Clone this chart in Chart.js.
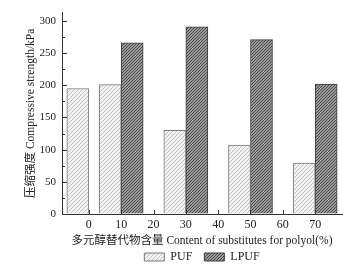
<!DOCTYPE html>
<html>
<head>
    <title>Compressive strength</title>
    <script src="https://cdn.jsdelivr.net/npm/chart.js"></script>
    <style>
        body { margin: 0; background: #ffffff; }
        #wrap { width: 362px; height: 272px; }
    </style>
</head>
<body>
    <div id="wrap"><canvas id="chart" width="362" height="272"></canvas></div>
    <script>
        // substitute content (%) where bars are drawn
        const contents = [0, 10, 30, 50, 70];
        const pufValues = [195, 201, 130, 107, 79];
        const lpufValues = [null, 266, 291, 271, 202];
        const xTicks = [0, 10, 20, 30, 40, 50, 60, 70];
        const yTicks = [0, 50, 100, 150, 200, 250, 300];
        const yMinorTicks = [25, 75, 125, 175, 225, 275];

        const serif = "'Liberation Serif', 'Noto Sans CJK SC', serif";

        // diagonal hatch fill like the printed figure
        function hatch(bg, line, step) {
            const c = document.createElement('canvas');
            c.width = step; c.height = step;
            const g = c.getContext('2d');
            g.fillStyle = bg;
            g.fillRect(0, 0, step, step);
            g.strokeStyle = line;
            g.lineWidth = 1;
            g.beginPath();
            g.moveTo(-1, step + 1); g.lineTo(step + 1, -1);
            g.moveTo(-1, 1); g.lineTo(1, -1);
            g.moveTo(step - 1, step + 1); g.lineTo(step + 1, step - 1);
            g.stroke();
            return g.createPattern(c, 'repeat');
        }

        // inward tick marks on both axes
        const inwardTicks = {
            id: 'inwardTicks',
            afterDatasetsDraw(chart) {
                const ctx = chart.ctx;
                const x = chart.scales.x, y = chart.scales.y;
                ctx.save();
                ctx.strokeStyle = '#333';
                ctx.lineWidth = 1;
                ctx.beginPath();
                xTicks.forEach(v => {
                    const px = Math.round(x.getPixelForValue(v)) + 0.5;
                    ctx.moveTo(px, y.bottom);
                    ctx.lineTo(px, y.bottom - 4);
                });
                yTicks.forEach(v => {
                    const py = Math.round(y.getPixelForValue(v)) + 0.5;
                    ctx.moveTo(x.left, py);
                    ctx.lineTo(x.left + 5, py);
                });
                yMinorTicks.forEach(v => {
                    const py = Math.round(y.getPixelForValue(v)) + 0.5;
                    ctx.moveTo(x.left, py);
                    ctx.lineTo(x.left + 3, py);
                });
                ctx.stroke();
                ctx.restore();
            }
        };

        new Chart(document.getElementById('chart'), {
            type: 'bar',
            data: {
                datasets: [{
                    label: 'PUF',
                    data: contents.map((c, i) => ({ x: c, y: pufValues[i] })),
                    backgroundColor: hatch('#f2f2f2', '#c4c4c4', 4),
                    borderColor: '#7a7a7a',
                    borderWidth: 1,
                    barThickness: 22
                }, {
                    label: 'LPUF',
                    data: contents.map((c, i) => ({ x: c, y: lpufValues[i] })),
                    backgroundColor: hatch('#9a9a9a', '#4a4a4a', 3),
                    borderColor: '#3a3a3a',
                    borderWidth: 1,
                    barThickness: 22
                }]
            },
            options: {
                responsive: false,
                animation: false,
                layout: { padding: { left: 0, right: 20, top: 8, bottom: 10 } },
                plugins: {
                    tooltip: { enabled: false },
                    legend: {
                        position: 'bottom',
                        fullSize: false,
                        maxHeight: 23,
                        labels: {
                            color: '#222',
                            font: { family: serif, size: 12 },
                            boxWidth: 20,
                            boxHeight: 8,
                            padding: 12
                        }
                    }
                },
                scales: {
                    x: {
                        type: 'linear',
                        offset: false,
                        min: -8.3,
                        max: 78.3,
                        afterBuildTicks: s => { s.ticks = xTicks.map(v => ({ value: v })); },
                        afterFit: s => { s.height = 25; },
                        grid: { display: true, drawOnChartArea: false, drawTicks: false },
                        border: { display: true, color: '#333', width: 1 },
                        ticks: {
                            color: '#222',
                            font: { family: serif, size: 12 },
                            padding: 4,
                            maxRotation: 0
                        },
                        title: {
                            display: true,
                            text: '多元醇替代物含量 Content of substitutes for polyol(%)',
                            color: '#222',
                            font: { family: serif, size: 11.5 },
                            padding: { top: 0, bottom: -9 }
                        }
                    },
                    y: {
                        min: 0,
                        max: 313,
                        afterBuildTicks: s => { s.ticks = yTicks.map(v => ({ value: v })); },
                        afterFit: s => { s.width = 62; },
                        grid: { display: true, drawOnChartArea: false, drawTicks: false },
                        border: { display: true, color: '#333', width: 1 },
                        ticks: {
                            color: '#222',
                            font: { family: serif, size: 11 },
                            padding: 6
                        },
                        title: {
                            display: true,
                            text: '压缩强度 Compressive strength/kPa',
                            color: '#222',
                            font: { family: serif, size: 11.5 },
                            padding: { top: 24, bottom: 0 }
                        }
                    }
                }
            },
            plugins: [inwardTicks]
        });
    </script>
</body>
</html>
